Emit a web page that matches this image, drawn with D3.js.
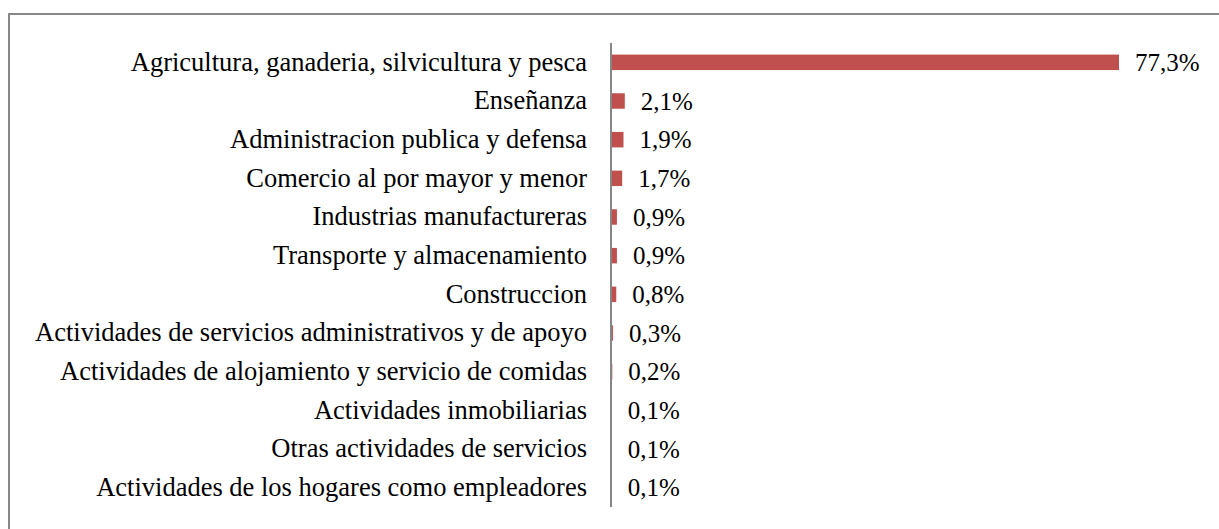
<!DOCTYPE html>
<html lang="es">
<head>
    <meta charset="UTF-8">
    <script src="https://d3js.org/d3.v7.min.js"></script>
    <title>Sectores</title>
    <style>
        body { margin: 0; background: #fff; }
    </style>
</head>
<body>
    <svg id="svg1" width="1219" height="529"></svg>
    <script>
        const categories = [
            "Agricultura, ganaderia, silvicultura y pesca",
            "Enseñanza",
            "Administracion publica y defensa",
            "Comercio al por mayor y menor",
            "Industrias manufactureras",
            "Transporte y almacenamiento",
            "Construccion",
            "Actividades de servicios administrativos y de apoyo",
            "Actividades de alojamiento y servicio de comidas",
            "Actividades inmobiliarias",
            "Otras actividades de servicios",
            "Actividades de los hogares como empleadores"
        ];
        const values = [77.3, 2.1, 1.9, 1.7, 0.9, 0.9, 0.8, 0.3, 0.2, 0.1, 0.1, 0.1];
        const valueLabels = ["77,3%", "2,1%", "1,9%", "1,7%", "0,9%", "0,9%", "0,8%", "0,3%", "0,2%", "0,1%", "0,1%", "0,1%"];

        const svg1 = d3.select("svg#svg1");
        const font = "'Liberation Serif', 'Times New Roman', serif";

        // outer frame
        svg1.append("rect")
            .attr("x", 9).attr("y", 14)
            .attr("width", 1230).attr("height", 540)
            .attr("fill", "none")
            .attr("stroke", "#878787")
            .attr("stroke-width", 2);

        const axisX = 611;
        const xScale = d3.scaleLinear().domain([0, 77.3]).range([axisX, 1119]);
        const yScale = d3.scaleBand().domain(categories).range([43, 507]).paddingInner(0.6).paddingOuter(0.3);

        let chartArea = svg1.append("g");

        chartArea.selectAll("rect.bar")
            .data(values)
            .join("rect")
            .attr("class", "bar")
            .attr("x", xScale(0))
            .attr("y", (d, i) => yScale(categories[i]))
            .attr("width", d => xScale(d) - xScale(0))
            .attr("height", yScale.bandwidth())
            .attr("fill", "#C0504D");

        // value labels
        chartArea.selectAll("text.val")
            .data(values)
            .join("text")
            .attr("class", "val")
            .attr("x", d => xScale(d) + 16)
            .attr("y", (d, i) => yScale(categories[i]) + yScale.bandwidth() / 2)
            .attr("dy", "0.35em")
            .style("font-family", font)
            .style("font-size", "25px")
            .attr("fill", "#000")
            .text((d, i) => valueLabels[i]);

        // category axis
        let leftAxis = d3.axisLeft(yScale).tickSize(0).tickPadding(24);
        let axisG = svg1.append("g")
            .attr("transform", `translate(${axisX},0)`)
            .call(leftAxis);
        axisG.select(".domain")
            .attr("stroke", "#868686")
            .attr("stroke-width", 2)
            .attr("d", "M0,43V507");
        axisG.selectAll(".tick text")
            .style("font-family", font)
            .style("font-size", "26.5px")
            .attr("fill", "#000");
    </script>
</body>
</html>
